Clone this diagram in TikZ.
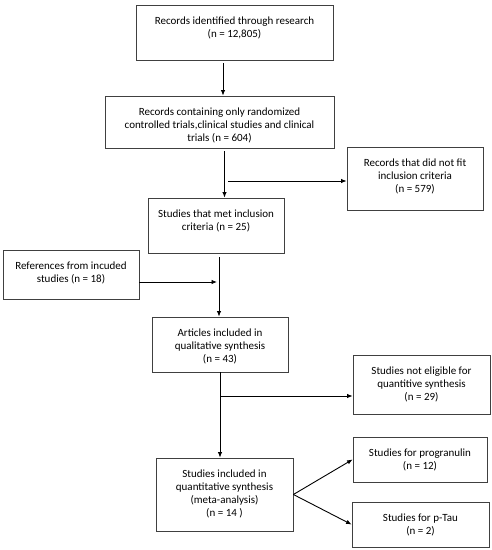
\documentclass[tikz,border=0pt]{standalone}
\usepackage{fontspec}
\setmainfont{Carlito}
\usetikzlibrary{arrows.meta}
\tikzset{box/.style={draw=black!75,line width=0.8pt,inner sep=0pt},
	txt/.style={align=center,inner sep=0pt,anchor=north,yshift=-12.5pt,font=\fontsize{11}{13}\selectfont},
	arr/.style={line width=0.9pt,-{Latex[length=5.5pt,width=4.5pt]}}}

\begin{document}
\begin{tikzpicture}[x=1pt,y=-1pt]
	\useasboundingbox (0,0) rectangle (492,550);
	\node(id)[box,minimum width=197pt,minimum height=55pt,label={[txt]north:{Records identified through research\\(n = 12,805)}}] at (234.5,32.5){};
	\node(scr)[box,minimum width=229pt,minimum height=52pt,label={[txt]north:{Records containing only randomized\\controlled trials,clinical studies and clinical\\trials (n = 604)}}] at (219.5,122){};
	\node(excl)[box,minimum width=136pt,minimum height=63pt,label={[txt]north:{Records that did not fit\\inclusion criteria\\(n = 579)}}] at (415,178.5){};
	\node(met)[box,minimum width=136pt,minimum height=55pt,label={[txt]north:{Studies that met inclusion\\criteria (n = 25)}}] at (216,225.5){};
	\node(refs)[box,minimum width=136pt,minimum height=49pt,label={[txt]north:{References from incuded\\studies (n = 18)}}] at (71,274.5){};
	\node(art)[box,minimum width=136pt,minimum height=55pt,label={[txt]north:{Articles included in\\qualitative synthesis\\(n = 43)}}] at (220,344.5){};
	\node(nel)[box,minimum width=137pt,minimum height=59pt,label={[txt]north:{Studies not eligible for\\quantitive synthesis\\(n = 29)}}] at (421.5,384.5){};
	\node(quant)[box,minimum width=137pt,minimum height=73pt,label={[txt]north:{Studies included in\\quantitative synthesis\\(meta-analysis)\\(n = 14 )}}] at (224.5,494.5){};
	\node(prg)[box,minimum width=134pt,minimum height=45pt,label={[txt]north:{Studies for progranulin\\(n = 12)}}] at (420,459.5){};
	\node(tau)[box,minimum width=137pt,minimum height=45pt,label={[txt]north:{Studies for p-Tau\\(n = 2)}}] at (420.5,524.5){};

	\coordinate (c1) at (228,181);
	\coordinate (c2) at (217,282);
	\coordinate (c3) at (220,396);

	\draw[arr] ([xshift=-11.5pt,yshift=-3pt]id.south) -- ([xshift=3.5pt]scr.north);
	\draw[arr] ([xshift=5pt,yshift=-3pt]scr.south) -- ([xshift=8.5pt]met.north);
	\draw[arr] (c1) -- (c1 -| excl.west);
	\draw[arr] ([xshift=3pt,yshift=-4pt]met.south) -- ([xshift=-1pt]art.north);
	\draw[arr] ([yshift=-7.5pt]refs.east) -- (c2);
	\draw[arr] (art.south) -- (art.south |- quant.north);
	\draw[arr] (c3) -- (c3 -| nel.west);
	\draw[arr] (quant.east) -- (prg.west);
	\draw[arr] (quant.east) -- (tau.west);
\end{tikzpicture}
\end{document}
